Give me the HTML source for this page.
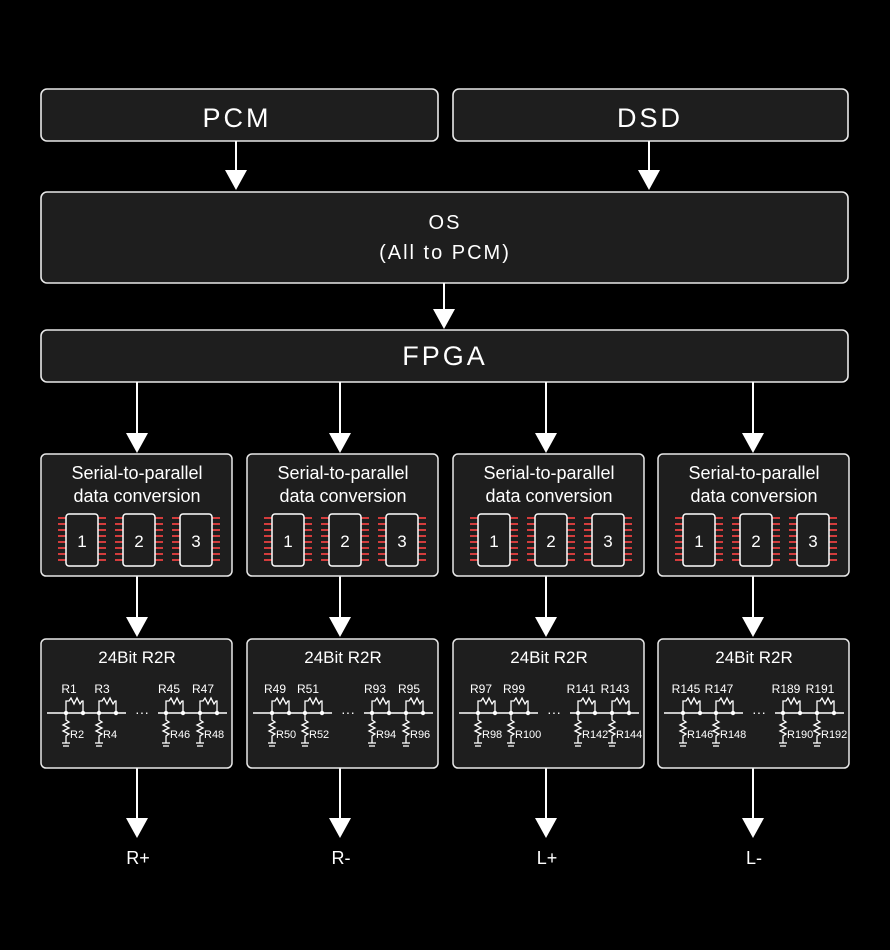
<!DOCTYPE html>
<html><head><meta charset="utf-8"><style>
html,body{margin:0;padding:0;background:#000;}
svg{display:block;font-family:"Liberation Sans",sans-serif;}
</style></head><body>
<svg id="s" width="890" height="950" viewBox="0 0 890 950" xmlns="http://www.w3.org/2000/svg">
<rect width="890" height="950" fill="#000"/>
<g fill="#1e1e1e" stroke="#e8e8e8" stroke-width="1.6">
<rect x="41" y="89" width="397" height="52" rx="6"/>
<rect x="453" y="89" width="395" height="52" rx="6"/>
<rect x="41" y="192" width="807" height="91" rx="6"/>
<rect x="41" y="330" width="807" height="52" rx="6"/>
</g>
<g fill="#fff" text-anchor="middle">
<text x="237" y="127" font-size="27" letter-spacing="3">PCM</text>
<text x="650" y="127" font-size="27" letter-spacing="3">DSD</text>
<text x="445" y="229" font-size="20" letter-spacing="2">OS</text>
<text x="445" y="259" font-size="20" letter-spacing="2">(All to PCM)</text>
<text x="445" y="365" font-size="27" letter-spacing="3">FPGA</text>
</g>
<g id="arrows" stroke="#fff" stroke-width="2" fill="#fff"></g>
<g id="cols"></g>
</svg>
<script>
var NS="http://www.w3.org/2000/svg";
function el(p,t,a,txt){var e=document.createElementNS(NS,t);for(var k in a)e.setAttribute(k,a[k]);if(txt!==undefined)e.textContent=txt;p.appendChild(e);return e;}
var A=document.getElementById('arrows');
function arrow(x,y1,y2){el(A,'line',{x1:x,y1:y1,x2:x,y2:y2-18});el(A,'polygon',{points:(x-11)+','+(y2-20)+' '+(x+11)+','+(y2-20)+' '+x+','+y2,stroke:'none'});}
arrow(236,141,190);arrow(649,141,190);arrow(444,283,329);
var cols=[41,247,453,658];
var axs=[137,340,546,753];
var labs=[["R1","R3","R45","R47","R2","R4","R46","R48"],["R49","R51","R93","R95","R50","R52","R94","R96"],["R97","R99","R141","R143","R98","R100","R142","R144"],["R145","R147","R189","R191","R146","R148","R190","R192"]];
var outs=["R+","R-","L+","L-"];
var C=document.getElementById('cols');
cols.forEach(function(x0,i){
  var cx=axs[i];
  arrow(cx,382,453);arrow(cx,576,637);arrow(cx,768,838);
  var g=el(C,'g',{transform:'translate('+x0+',0)'});
  el(g,'rect',{x:0,y:454,width:191,height:122,rx:5,fill:'#1e1e1e',stroke:'#e8e8e8','stroke-width':1.5});
  el(g,'rect',{x:0,y:639,width:191,height:129,rx:5,fill:'#1e1e1e',stroke:'#e8e8e8','stroke-width':1.5});
  el(g,'text',{x:96,y:479,'font-size':18,fill:'#fff','text-anchor':'middle'},'Serial-to-parallel');
  el(g,'text',{x:96,y:502,'font-size':18,fill:'#fff','text-anchor':'middle'},'data conversion');
  [25,82,139].forEach(function(cxp,j){
    for(var k=0;k<8;k++){var y=518+k*6;
      el(g,'line',{x1:cxp-8,y1:y,x2:cxp,y2:y,stroke:'#d23c3c','stroke-width':2});
      el(g,'line',{x1:cxp+32,y1:y,x2:cxp+40,y2:y,stroke:'#d23c3c','stroke-width':2});}
    el(g,'rect',{x:cxp,y:514,width:32,height:52,rx:3,fill:'#1e1e1e',stroke:'#fff','stroke-width':1.5});
    el(g,'text',{x:cxp+16,y:547,'font-size':17,fill:'#fff','text-anchor':'middle'},String(j+1));
  });
  el(g,'text',{x:96,y:663,'font-size':17,fill:'#fff','text-anchor':'middle'},'24Bit R2R');
  el(g,'line',{x1:6,y1:713,x2:85,y2:713,stroke:'#fff','stroke-width':1.5});
  el(g,'line',{x1:117,y1:713,x2:186,y2:713,stroke:'#fff','stroke-width':1.5});
  el(g,'text',{x:101,y:717,'font-size':14,fill:'#fff','text-anchor':'middle'},'···');
  [21,54,121,155].forEach(function(u,j){
    var a=u+4,b=u+21;
    el(g,'path',{d:'M'+a+' 713 V701 H'+(a+3)+' l2 -3 l3 6 l3 -6 l3 6 l2 -3 H'+b+' V713',fill:'none',stroke:'#fff','stroke-width':1.3});
    el(g,'circle',{cx:a,cy:713,r:2.2,fill:'#fff'});el(g,'circle',{cx:b,cy:713,r:2.2,fill:'#fff'});
    el(g,'path',{d:'M'+a+' 713 V720 l3 2 l-6 3 l6 3 l-6 3 l6 3 l-3 2 V743',fill:'none',stroke:'#fff','stroke-width':1.3});
    el(g,'line',{x1:a-4,y1:743,x2:a+4,y2:743,stroke:'#fff','stroke-width':1.3});
    el(g,'line',{x1:a-3,y1:746,x2:a+3,y2:746,stroke:'#fff','stroke-width':1.3});
    el(g,'text',{x:u+7,y:693,'font-size':12,fill:'#fff','text-anchor':'middle'},labs[i][j]);
    el(g,'text',{x:a+4,y:738,'font-size':11,fill:'#fff'},labs[i][j+4]);
  });
  el(document.getElementById('s'),'text',{x:cx+1,y:864,'font-size':18,fill:'#fff','text-anchor':'middle'},outs[i]);
});
</script>
</body></html>
